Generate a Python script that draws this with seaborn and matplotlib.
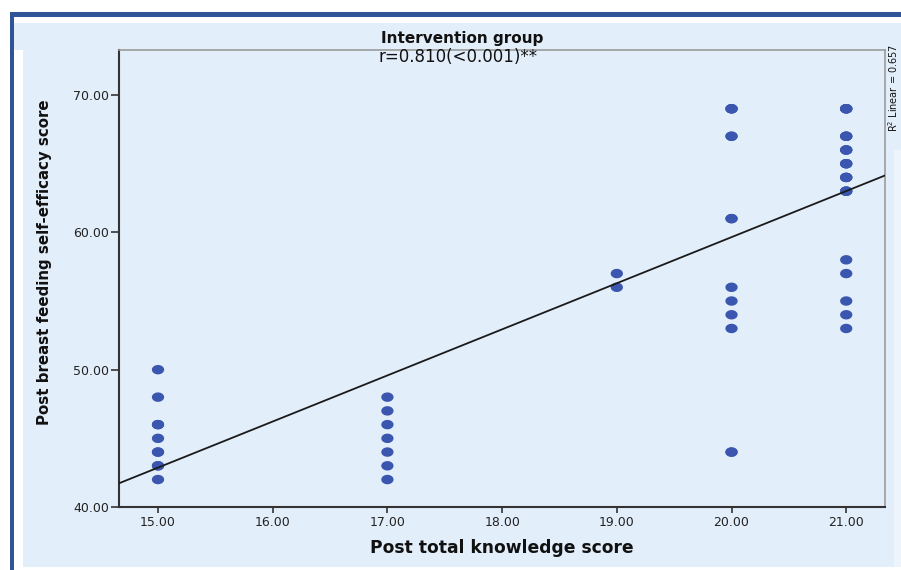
import numpy as np
import pandas as pd
import matplotlib
matplotlib.use("Agg")
import matplotlib.pyplot as plt
from matplotlib.patches import Rectangle
import seaborn as sns

# Post total knowledge score groups and the post self-efficacy scores of each respondent
knowledge_levels = [15, 17, 19, 20, 21]
efficacy_at_15 = [50, 48, 46, 46, 45, 44, 44, 43, 43, 42]
efficacy_at_17 = [48, 47, 46, 45, 44, 43, 42]
efficacy_at_19 = [57, 56]
efficacy_at_20 = [69, 69, 69, 67, 67, 61, 61, 56, 55, 54, 53, 44, 44]
efficacy_at_21 = [69, 69, 69, 69, 67, 67, 67, 66, 66, 66, 65, 65, 65,
                  64, 64, 64, 63, 63, 63, 58, 57, 55, 54, 53]

x_ticks = [15, 16, 17, 18, 19, 20, 21]
y_ticks = [40, 50, 60, 70]

title_text = "Intervention group"
corr_text = "r=0.810(<0.001)**"
fit_text = "R$^2$ Linear = 0.657"
x_label = "Post total knowledge score"
y_label = "Post breast feeding self-efficacy score"

groups = [efficacy_at_15, efficacy_at_17, efficacy_at_19, efficacy_at_20, efficacy_at_21]
df = pd.concat(
    [pd.DataFrame({"knowledge": float(k), "efficacy": vals})
     for k, vals in zip(knowledge_levels, groups)],
    ignore_index=True,
)

sns.set_theme(style="white")
plt.rcParams["font.family"] = ["DejaVu Sans"]
plt.rcParams["mathtext.fontset"] = "dejavusans"

W, H = 901, 570
fig = plt.figure(figsize=(W / 100, H / 100), dpi=100)
fig.patch.set_facecolor("white")

panel_blue = "#e3eefb"
frame_blue = "#2f5597"


def px_rect(x0, y0, x1, y1, color, z=-2):
    fig.patches.append(Rectangle((x0 / W, 1 - y1 / H), (x1 - x0) / W, (y1 - y0) / H,
                                 transform=fig.transFigure, facecolor=color,
                                 edgecolor="none", zorder=z))


# light panel with its dark blue frame
px_rect(14, 17, 901, 567, panel_blue, z=-3)
px_rect(14, 17, 901, 23, "white")
px_rect(14, 50, 23, 567, "white")
px_rect(894, 150, 901, 567, "#eef4fc")
px_rect(10, 12, 901, 17, frame_blue, z=-1)
px_rect(10, 12, 14, 570, frame_blue, z=-1)

ax = fig.add_axes([119 / W, 63 / H, 766 / W, 457 / H])
ax.set_zorder(2)
ax.set_facecolor(panel_blue)
xlim = (14.66, 21.338)
ylim = (40, 73.28)
ax.set_xlim(*xlim)
ax.set_ylim(*ylim)

# slightly wide elliptical dots
t = np.linspace(0, 2 * np.pi, 40)
ellipse = list(zip(1.3 * np.cos(t), np.sin(t)))

sns.scatterplot(data=df, x="knowledge", y="efficacy", marker=ellipse, s=78,
                color="#3a56ae", edgecolor="none", linewidth=0, legend=False,
                ax=ax, zorder=3)
sns.regplot(data=df, x="knowledge", y="efficacy", scatter=False, ci=None,
            truncate=False, line_kws=dict(color="#1a1a1a", lw=1.3, zorder=4), ax=ax)
ax.set_xlim(*xlim)
ax.set_ylim(*ylim)

ax.set_xticks(x_ticks)
ax.set_xticklabels([f"{v:.2f}" for v in x_ticks])
ax.set_yticks(y_ticks)
ax.set_yticklabels([f"{v:.2f}" for v in y_ticks])
ax.tick_params(axis="x", direction="out", length=4.5, width=1.2, color="#333333",
               labelsize=9, labelcolor="#222222", pad=2, bottom=True)
ax.tick_params(axis="y", direction="out", length=6, width=1.2, color="#333333",
               labelsize=9, labelcolor="#222222", pad=1, left=True)

for side in ("left", "bottom"):
    ax.spines[side].set_color("#333333")
    ax.spines[side].set_linewidth(1.5)
for side in ("top", "right"):
    ax.spines[side].set_color("#9a9a9a")
    ax.spines[side].set_linewidth(1.2)

ax.set_xlabel(x_label, fontsize=12.3, fontweight="bold", color="#111111")
ax.xaxis.label.set_va("center")
ax.xaxis.set_label_coords(0.5, (570 - 548 - 63) / 457)
ax.set_ylabel(y_label, fontsize=10.8, fontweight="bold", color="#111111")
ax.yaxis.label.set_va("center")
ax.yaxis.set_label_coords((45 - 119) / 766, (570 - 262 - 63) / 457)

ax.text((462 - 119) / 766, (570 - 39 - 63) / 457, title_text, transform=ax.transAxes,
        ha="center", va="center", fontsize=11, fontweight="bold", color="#111111")
ax.text((458 - 119) / 766, (570 - 57 - 63) / 457, corr_text, transform=ax.transAxes,
        ha="center", va="center", fontsize=12, color="#111111", zorder=5)

fig.text(900 / W, 1 - 44 / H, fit_text, rotation=90, ha="right", va="top",
         fontsize=7, color="#111111")

fig.savefig("out.png", dpi=100, facecolor="white")
